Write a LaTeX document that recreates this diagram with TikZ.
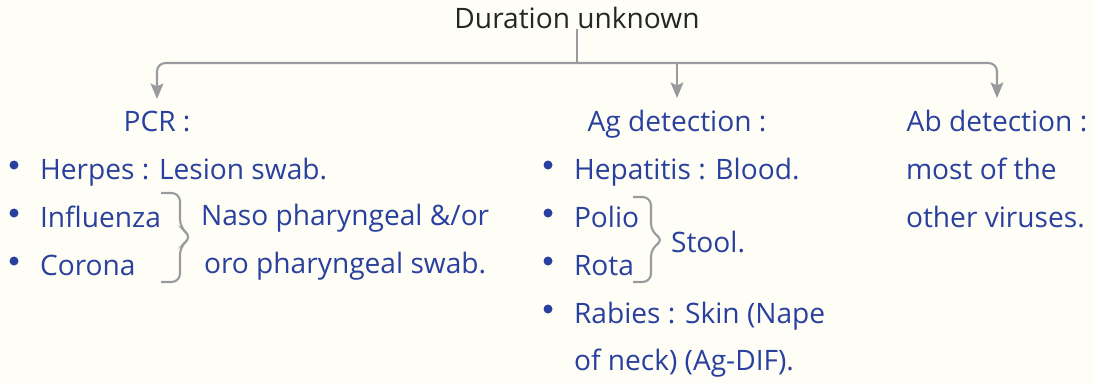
\documentclass[tikz,border=0pt]{standalone}
\usepackage{fontspec}
\setmainfont{Open Sans}
\usetikzlibrary{arrows.meta}
\definecolor{inkblue}{HTML}{2A409E}
\definecolor{linegray}{HTML}{9A9A9E}
\definecolor{paper}{HTML}{FEFEF6}

\begin{document}
\begin{tikzpicture}[x=0.025cm,y=-0.025cm,line width=1.5pt,>=Stealth,
  txt/.style={anchor=base west,inner sep=0pt,text=inkblue,font=\fontsize{20}{24}\selectfont},
  head/.style={anchor=base,inner sep=0pt,text=inkblue,font=\fontsize{20}{24}\selectfont},
  wire/.style={draw=linegray,line width=1.5pt},
  arr/.style={->,wire,rounded corners=6pt,shorten >=7.5pt,
    >={Stealth[length=11pt,width=9pt,inset=2pt]}},
  brc/.style={wire,rounded corners=6pt}]
% ---------- page ----------
\fill[paper] (0,0) rectangle (1093,384);
\useasboundingbox (0,0) rectangle (1093,384);
% ---------- root and branches ----------
\node[anchor=base,inner sep=0pt,text=black!85,font=\fontsize{20}{24}\selectfont]
  (title) at (577,28) {Duration unknown};
\coordinate (bus) at (577,63);
\node[head] (pcr) at (157,131) {PCR :};
\node[head] (ag)  at (677,131) {Ag detection :};
\node[head] (ab)  at (997,131) {Ab detection :};
\draw[wire] (title.south) -- (bus);
\draw[arr] (bus) -| (pcr.north);
\draw[arr] (bus) -| (ab.north);
\draw[arr] (bus -| ag.north) -- (ag.north);
% ---------- PCR ----------
\node[txt] (herpes) at (39,179) {Herpes : Lesion swab.};
\node[txt] (flu)    at (39,227) {Influenza};
\node[txt] (corona) at (39,275) {Corona};
\node[txt] (naso)   at (200,225) {Naso pharyngeal \&/or};
\node[txt] (oro)    at (203,273) {oro pharyngeal swab.};
\draw[brc] (161,193) -| (180,228) -- (192,237) -- (180,246) |- (161,282);
% ---------- Ag detection ----------
\node[txt] (hep)    at (573,179) {Hepatitis : Blood.};
\node[txt] (polio)  at (573,227) {Polio};
\node[txt] (rota)   at (573,275) {Rota};
\node[txt] (stool)  at (670,252) {Stool.};
\node[txt] (rabies) at (573,323) {Rabies : Skin (Nape};
\node[txt] (neck)   at (573,370) {of neck) (Ag-DIF).};
\draw[brc] (633,197) -| (651,232) -- (664,240) -- (651,248) |- (633,282);
% ---------- Ab detection ----------
\node[txt] (most)   at (905,179) {most of the};
\node[txt] (other)  at (905,227) {other viruses.};
% ---------- bullets ----------
\foreach \n in {herpes,flu,corona,hep,polio,rota,rabies}
  \fill[inkblue] (\n.base west) ++(-25,-14) circle (4.5);
\end{tikzpicture}
\end{document}
